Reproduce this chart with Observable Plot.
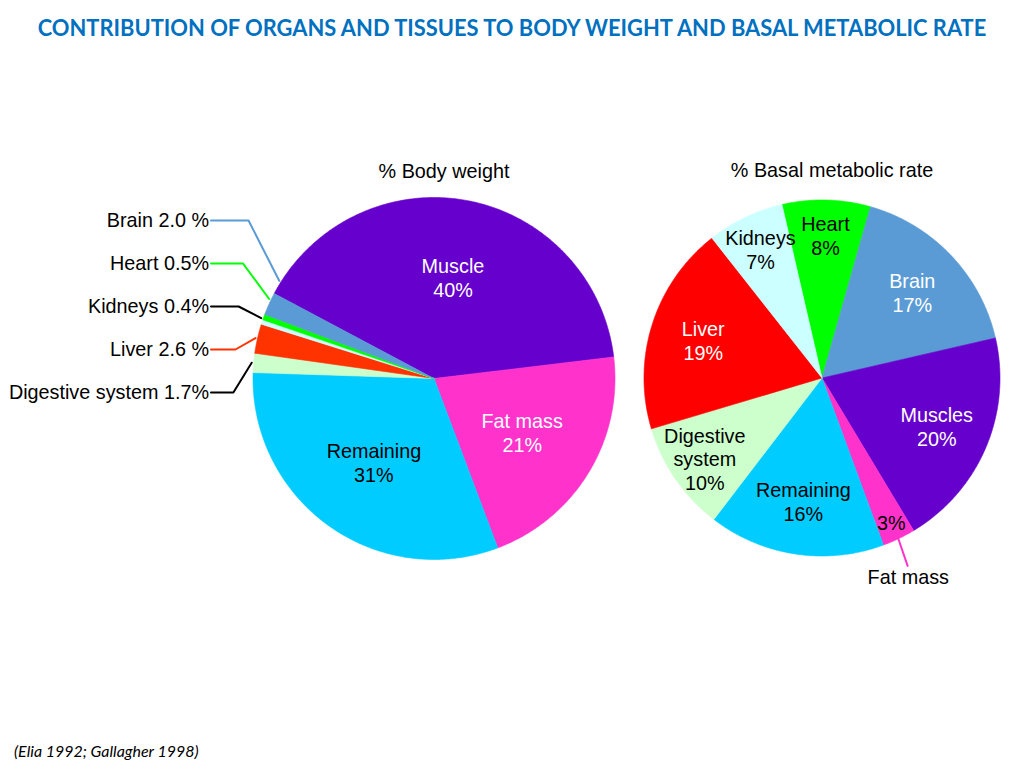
<!DOCTYPE html>
<html><head><meta charset="utf-8">
<script src="https://cdn.jsdelivr.net/npm/d3@7"></script>
<script src="https://cdn.jsdelivr.net/npm/@observablehq/plot@0.6"></script>
<style>
html,body{margin:0;padding:0;background:#fff;}
body{width:1024px;height:768px;overflow:hidden;}
#title{height:55px;display:flex;align-items:center;justify-content:center;color:#0070C0;font-family:Lato,"Open Sans",sans-serif;font-weight:bold;white-space:nowrap;}
#chart{height:686px;}
#caption{height:26px;padding-left:14px;font-family:Lato,"Open Sans",sans-serif;font-style:italic;color:#000;line-height:20px;white-space:nowrap;}
</style></head><body>
<div id="title"></div><div id="chart"></div><div id="caption"></div>
<script>
// ---------- data ----------
const TITLE = "CONTRIBUTION OF ORGANS AND TISSUES TO BODY WEIGHT AND BASAL METABOLIC RATE";
const CAPTION = "(Elia 1992; Gallagher 1998)";
const pieTitles = ["% Body weight", "% Basal metabolic rate"];

const bwTissues = ["Muscle", "Fat mass", "Remaining", "Digestive system", "Liver", "Kidneys", "Heart", "Brain"];
const bwValues  = [40, 21, 31, 1.7, 2.6, 0.4, 0.5, 2.0];
const bwLabels  = ["Muscle\n40%", "Fat mass\n21%", "Remaining\n31%", "Digestive system 1.7%", "Liver 2.6 %", "Kidneys 0.4%", "Heart 0.5%", "Brain 2.0 %"];
const bwColors  = ["#6600CC", "#FF33CC", "#00CCFF", "#CCFFCC", "#FF3300", "#CCFFFF", "#00FF00", "#5B9BD5"];

const bmrTissues = ["Heart", "Brain", "Muscles", "Fat mass", "Remaining", "Digestive system", "Liver", "Kidneys"];
const bmrValues  = [8, 17, 20, 3, 16, 10, 19, 7];
const bmrLabels  = ["Heart\n8%", "Brain\n17%", "Muscles\n20%", "3%", "Remaining\n16%", "Digestive\nsystem\n10%", "Liver\n19%", "Kidneys\n7%"];
const bmrColors  = ["#00FF00", "#5B9BD5", "#6600CC", "#FF33CC", "#00CCFF", "#CCFFCC", "#FF0000", "#CCFFFF"];

// ---------- layout ----------
const W = 1024, H = 686, TOP = 55;
const FS = 19.8;
const layouts = [
  {cx: 433.5, cy: 378 - TOP, r: 181, start: 298, mode: "rows"},
  {cx: 821.5, cy: 377.5 - TOP, r: 178, start: 347, mode: "radial"}
];
const rad = d => d * Math.PI / 180;
const pt = (L, a, rr) => ({x: L.cx + rr * Math.sin(a), y: L.cy - rr * Math.cos(a)});
function lum(c) {
  const o = d3.rgb(c);
  const f = v => { v /= 255; return v <= 0.03928 ? v / 12.92 : Math.pow((v + 0.055) / 1.055, 2.4); };
  return 0.2126 * f(o.r) + 0.7152 * f(o.g) + 0.0722 * f(o.b);
}

const slicePts = [], leaderPts = [], inner = [], outer = [], heads = [];

function build(pid, tissues, values, labels, colors, L) {
  const total = d3.sum(values);
  const arcs = d3.pie().sort(null).value(d => d)
    .startAngle(rad(L.start)).endAngle(rad(L.start) + 2 * Math.PI)(values);
  const smalls = [];
  arcs.forEach((a, i) => {
    const key = pid + "-" + i;
    const n = Math.max(2, Math.ceil((a.endAngle - a.startAngle) / rad(0.5)));
    slicePts.push({key, color: colors[i], ...pt(L, 0, 0)});
    for (let k = 0; k <= n; k++) {
      const ang = a.startAngle + (a.endAngle - a.startAngle) * k / n;
      slicePts.push({key, color: colors[i], ...pt(L, ang, L.r)});
    }
    slicePts.push({key, color: colors[i], ...pt(L, 0, 0)});
    const share = values[i] / total;
    const mid = (a.startAngle + a.endAngle) / 2;
    if (L.mode === "rows") {
      if (share >= 0.05) {
        inner.push({text: labels[i], ink: lum(colors[i]) < 0.35 ? "white" : "black", ...pt(L, mid, L.r * 0.57)});
      } else {
        smalls.push({i, mid, color: colors[i], label: labels[i]});
      }
    } else {
      const f = share >= 0.15 ? 0.70 : share >= 0.05 ? 0.80 : 0.90;
      inner.push({text: labels[i], ink: (lum(colors[i]) < 0.35 && f < 0.85) ? "white" : "black", ...pt(L, mid, L.r * f)});
      if (share < 0.05) {
        const lk = "lead-" + key;
        leaderPts.push({key: lk, color: colors[i], ...pt(L, mid, L.r * 0.97)});
        leaderPts.push({key: lk, color: colors[i], ...pt(L, mid + rad(1.1), L.r * 1.16)});
        outer.push({text: tissues[i], anchor: "middle", ...pt(L, mid + rad(2.2), L.r * 1.22)});
      }
    }
  });
  if (L.mode === "rows") {
    // spread the pointer angles of the thin slices so the leaders do not crowd
    const wrap = a => (a - rad(L.start) + 4 * Math.PI) % (2 * Math.PI);
    smalls.sort((a, b) => wrap(a.mid) - wrap(b.mid));
    let prev = -Infinity;
    smalls.forEach(s => { s.pa = Math.max(s.mid, prev + rad(6.5)); prev = s.pa; s.end = pt(L, s.pa, L.r + 2); });
    smalls.sort((a, b) => a.end.y - b.end.y);
    const tx = L.cx - L.r - 44;
    smalls.forEach((s, j) => {
      const ry = L.cy - 158 + j * 43;
      const lk = "lead-" + pid + "-" + s.i;
      const sx = tx + 2;
      const c = lum(s.color) > 0.8 ? "#000" : s.color;
      leaderPts.push({key: lk, color: c, x: sx, y: ry});
      leaderPts.push({key: lk, color: c, x: sx + 0.55 * (s.end.x - sx), y: ry});
      leaderPts.push({key: lk, color: c, x: s.end.x, y: s.end.y});
      outer.push({text: s.label, anchor: "end", x: tx, y: ry});
    });
  }
  heads.push({text: pieTitles[pid], x: L.cx + 10, y: L.cy - 207});
}

build(0, bwTissues, bwValues, bwLabels, bwColors, layouts[0]);
build(1, bmrTissues, bmrValues, bmrLabels, bmrColors, layouts[1]);

const chart = Plot.plot({
  width: W, height: H, margin: 0,
  x: {type: "linear", domain: [0, W], range: [0, W], axis: null},
  y: {type: "linear", domain: [0, H], range: [0, H], axis: null},
  color: {type: "identity"},
  style: {fontFamily: "'Liberation Sans', Arial, sans-serif", background: "white", overflow: "visible"},
  marks: [
    Plot.line(slicePts, {x: "x", y: "y", z: "key", fill: "color", stroke: "color", strokeWidth: 0.6, curve: "linear"}),
    Plot.line(leaderPts, {x: "x", y: "y", z: "key", stroke: "color", strokeWidth: 2, curve: "linear"}),
    Plot.text(inner, {x: "x", y: "y", text: "text", fill: "ink", fontSize: FS, lineHeight: 1.2, textAnchor: "middle", lineAnchor: "middle"}),
    Plot.text(outer.filter(d => d.anchor === "end"), {x: "x", y: "y", text: "text", fill: "#000", fontSize: FS, textAnchor: "end", lineAnchor: "middle"}),
    Plot.text(outer.filter(d => d.anchor === "middle"), {x: "x", y: "y", text: "text", fill: "#000", fontSize: FS, textAnchor: "middle", lineAnchor: "middle"}),
    Plot.text(heads, {x: "x", y: "y", text: "text", fill: "#000", fontSize: FS, textAnchor: "middle", lineAnchor: "middle"})
  ]
});
document.getElementById("chart").appendChild(chart);

// title and caption sized to the reference widths
function fitSize(text, style, target) {
  const c = document.createElement("canvas").getContext("2d");
  c.font = style + " 100px Lato";
  return 100 * target / c.measureText(text).width;
}
const t = document.getElementById("title");
t.textContent = TITLE;
t.style.fontSize = fitSize(TITLE, "bold", 955).toFixed(2) + "px";
const cap = document.getElementById("caption");
cap.textContent = CAPTION;
cap.style.fontSize = fitSize(CAPTION, "italic", 185).toFixed(2) + "px";
</script>
</body></html>
